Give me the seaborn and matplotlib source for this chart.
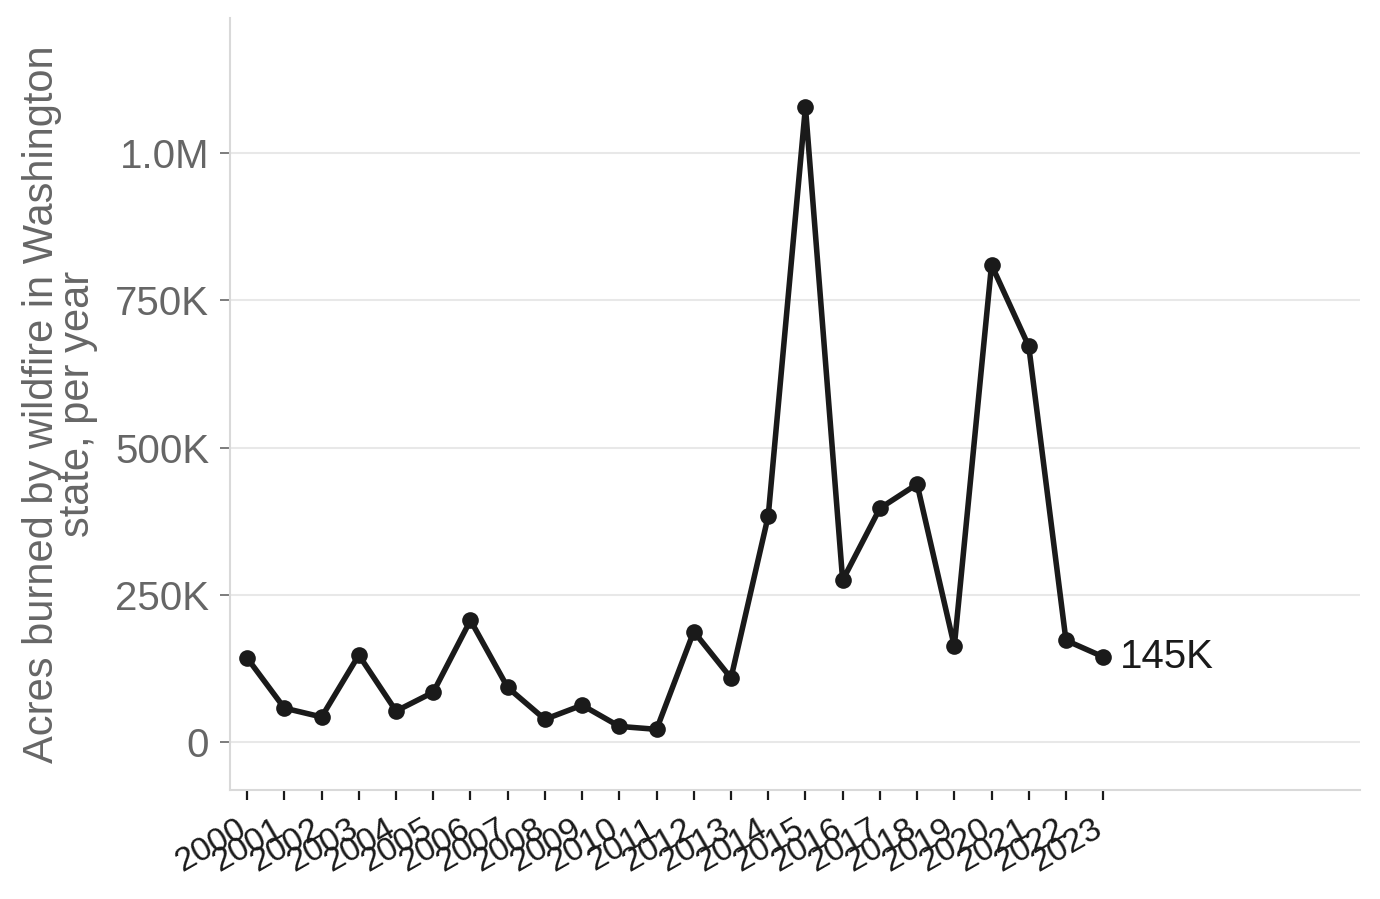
import numpy as np
import pandas as pd
import matplotlib
matplotlib.use("Agg")
import matplotlib.pyplot as plt
import matplotlib.transforms as mtransforms
import seaborn as sns
from matplotlib.ticker import FuncFormatter

years = list(range(2000, 2024))
acres = [143000, 58000, 43000, 148000, 53000, 85000, 207000, 93000, 39000, 63000,
         27000, 22000, 188000, 109000, 384000, 1078000, 275000, 397000, 438000, 163000,
         810000, 672000, 173000, 145000]
end_label = "145K"
ylabel = "Acres burned by wildfire in Washington\nstate, per year"

sns.set_theme(style="white")
plt.rcParams['font.family'] = ['Liberation Sans', 'DejaVu Sans']

df = pd.DataFrame({"year": years, "acres": acres})

fig = plt.figure(figsize=(13.8, 8.99), dpi=100)
ax = fig.add_axes([0.1667, 0.1212, 0.8188, 0.8588])

sns.lineplot(data=df, x="year", y="acres", ax=ax, color="#1a1a1a", linewidth=4.0,
             marker="o", markersize=12, markeredgewidth=0)

ax.set_xlim(1999.54, 2029.9)
ax.set_ylim(-81000, 1229000)
ax.set_yticks([0, 250000, 500000, 750000, 1000000])

def fmt(v, pos):
    if v == 0:
        return "0"
    if v >= 1e6:
        return f"{v/1e6:.1f}M"
    return f"{int(v/1e3)}K"

ax.yaxis.set_major_formatter(FuncFormatter(fmt))
ax.set_xticks(years)
ax.set_xticklabels([str(y) for y in years], rotation=30, ha="right",
                   rotation_mode="anchor", fontsize=24.5, color="#1a1a1a")
ax.tick_params(axis="y", labelsize=29, labelcolor="#666666", colors="#666666",
               length=7, width=1.2, left=True, pad=8)
ax.tick_params(axis="x", length=7, width=1.6, colors="#1a1a1a", bottom=True, pad=6)
offset = mtransforms.ScaledTranslation(-11 / 100, -5 / 100, fig.dpi_scale_trans)
for lbl in ax.get_xticklabels():
    lbl.set_transform(lbl.get_transform() + offset)
ax.yaxis.grid(True, color="#e8e8e8", linewidth=1.5)
ax.xaxis.grid(False)
for s in ["top", "right"]:
    ax.spines[s].set_visible(False)
for s in ["left", "bottom"]:
    ax.spines[s].set_color("#d9d9d9")
    ax.spines[s].set_linewidth(1.5)

ax.set_xlabel("")
ax.set_ylabel(ylabel, fontsize=30, color="#666666", linespacing=0.9, labelpad=12)

ax.annotate(end_label, xy=(years[-1], acres[-1]), xytext=(12, 0),
            textcoords="offset points", va="center", ha="left",
            fontsize=29, color="#1a1a1a")

fig.savefig("out.png", dpi=100)
